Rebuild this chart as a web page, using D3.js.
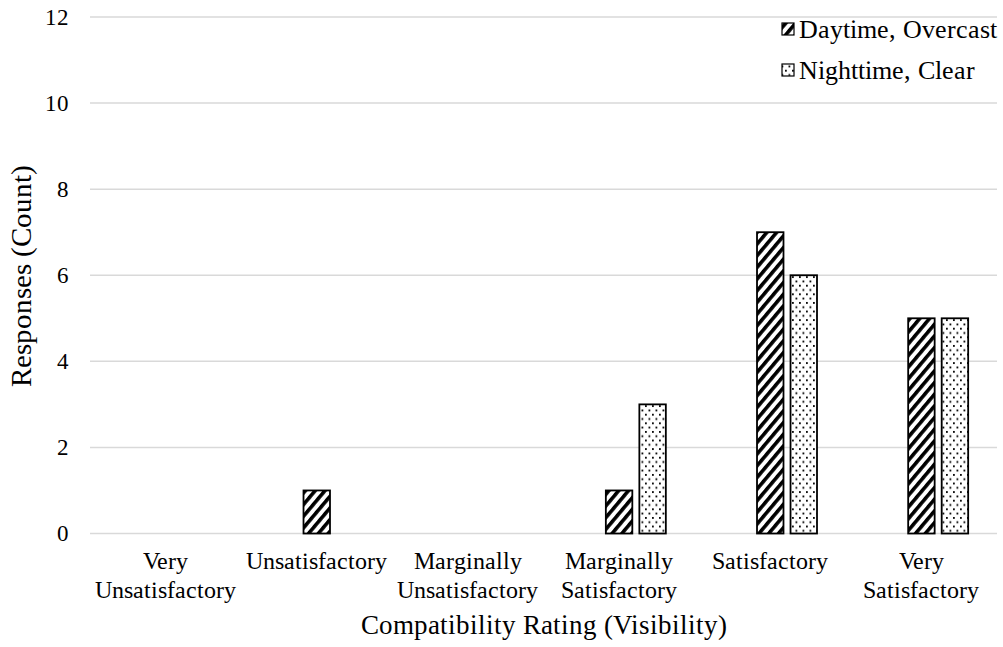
<!DOCTYPE html>
<html><head><meta charset="utf-8">
<script src="https://cdn.jsdelivr.net/npm/d3@7"></script>
<style>
@font-face { font-family: "ChartSerif"; src: local("Liberation Serif"), local("LiberationSerif"), local("LiberationSerif-Regular"), local("Tinos"), local("Times New Roman"); font-display: block; }
</style>
</head>
<body style="margin:0;padding:0;background:#fff"><svg id="chart" width="1003" height="647" style="display:block"></svg>
<script>
const categories = ["Very Unsatisfactory","Unsatisfactory","Marginally Unsatisfactory","Marginally Satisfactory","Satisfactory","Very Satisfactory"];
const seriesNames = ["Daytime, Overcast","Nighttime, Clear"];
const daytime = [0,1,0,1,7,5];
const nighttime = [0,0,0,3,6,5];
const yTicks = [0,2,4,6,8,10,12];
const slots = ["(blank)","Daytime, Overcast","Nighttime, Clear"];

const FONT = "ChartSerif, \"Liberation Serif\", \"Times New Roman\", serif";
if (document.fonts && document.fonts.load) { document.fonts.load("24px ChartSerif"); }
const svg = d3.select("#chart");
const m = {left:90, right:6, top:17, bottom:113.5};
const W = 1003, H = 647;

function txt(sel){ return sel.attr("font-family", FONT).style("font-family", FONT); }

const defs = svg.append("defs");
const pS = defs.append("pattern").attr("id","stripes").attr("patternUnits","userSpaceOnUse")
  .attr("width",7.5).attr("height",10).attr("patternTransform","rotate(40)");
pS.append("rect").attr("width",7.5).attr("height",10).attr("fill","#fff");
pS.append("rect").attr("x",0).attr("width",3.6).attr("height",10).attr("fill","#000");
const pD = defs.append("pattern").attr("id","dots").attr("patternUnits","userSpaceOnUse")
  .attr("width",7).attr("height",8.6);
pD.append("rect").attr("width",7).attr("height",8.6).attr("fill","#fff");
pD.append("rect").attr("x",1).attr("y",1).attr("width",1.8).attr("height",1.8).attr("fill","#000");
pD.append("rect").attr("x",4.5).attr("y",5.3).attr("width",1.8).attr("height",1.8).attr("fill","#000");
const fills = {"Daytime, Overcast":"url(#stripes)","Nighttime, Clear":"url(#dots)"};

const x0 = d3.scaleBand().domain(categories).range([m.left, W-m.right]).padding(0);
const x1 = d3.scaleBand().domain(slots).range([0, x0.bandwidth()]).paddingInner(0.21).paddingOuter(0.86);
const y = d3.scaleLinear().domain([0,12]).range([H-m.bottom, m.top]);

// gridlines
svg.append("g").selectAll("line").data(yTicks).join("line")
  .attr("x1",m.left).attr("x2",W-m.right)
  .attr("y1",d=>y(d)).attr("y2",d=>y(d))
  .attr("stroke","#d9d9d9").attr("stroke-width",1.5);

// y tick labels
yTicks.forEach(d=>{
  txt(svg.append("text")).attr("x",69).attr("y",y(d)+7.5)
    .attr("text-anchor","end").attr("font-size",23).text(d);
});

// bars
const rows = categories.map((c,i)=>({cat:c, vals:[
  {s:seriesNames[0], v:daytime[i]}, {s:seriesNames[1], v:nighttime[i]}]}));
const g = svg.append("g");
rows.forEach(r=>{
  g.selectAll(null).data(r.vals.filter(d=>d.v>0)).join("rect")
    .attr("x",d=>x0(r.cat)+x1(d.s))
    .attr("y",d=>y(d.v))
    .attr("width",x1.bandwidth())
    .attr("height",d=>y(0)-y(d.v))
    .attr("fill",d=>fills[d.s])
    .attr("stroke","#000").attr("stroke-width",1.8);
});

// category labels (one text per line)
categories.forEach(c=>{
  c.split(" ").forEach((w,i)=>{
    txt(svg.append("text")).attr("text-anchor","middle").attr("font-size",23.5)
      .attr("x",x0(c)+x0.bandwidth()/2).attr("y",569+i*29).text(w);
  });
});

// axis titles
txt(svg.append("text")).attr("x",(m.left+W-m.right)/2).attr("y",634)
  .attr("text-anchor","middle").attr("font-size",27).text("Compatibility Rating (Visibility)");
txt(svg.append("text")).attr("transform","translate(31,276) rotate(-90)")
  .attr("text-anchor","middle").attr("font-size",29).text("Responses (Count)");

// legend
seriesNames.forEach((s,i)=>{
  svg.append("rect").attr("x",782).attr("y",y(12)+6+i*41).attr("width",12).attr("height",12)
    .attr("fill",fills[s]).attr("stroke","#000").attr("stroke-width",1.2);
  txt(svg.append("text")).attr("x",799).attr("y",y(12)+20.5+i*41).attr("font-size",25.5).text(s);
});
</script></body></html>
